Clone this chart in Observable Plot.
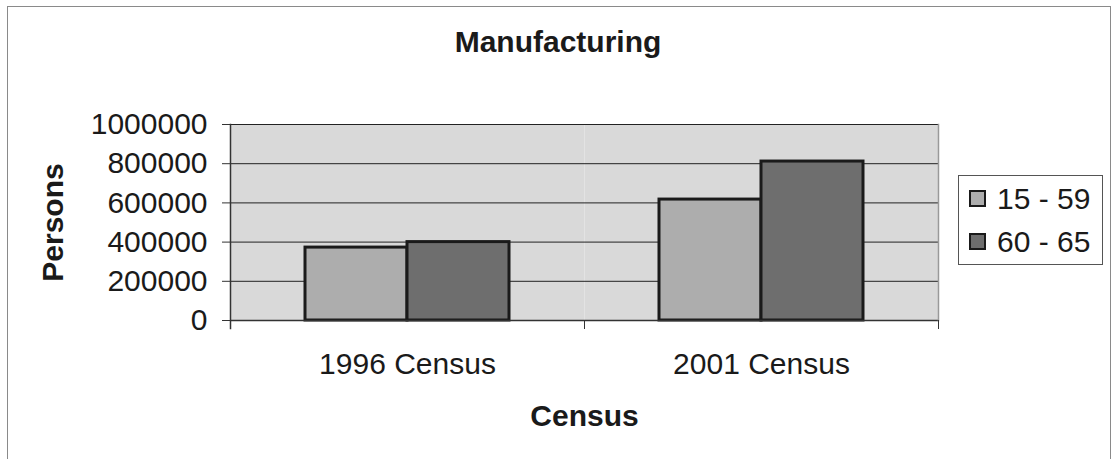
<!DOCTYPE html>
<html>
<head>
<meta charset="utf-8">
<script src="https://cdn.jsdelivr.net/npm/d3@7"></script>
<script src="https://cdn.jsdelivr.net/npm/@observablehq/plot@0.6"></script>
<style>
  body { margin: 0; background: #fff; font-family: "Liberation Sans", Arial, sans-serif; color: #1a1a1a; }
  #wrap { position: relative; width: 1114px; height: 459px; overflow: hidden; }
  #border { position: absolute; left: 7px; top: 6px; width: 1104px; height: 480px; border: 1px solid #8a8a8a; box-sizing: border-box; }
  #chart { position: absolute; left: 0; top: 0; }
  #title { position: absolute; left: 0; top: 27px; width: 1116px; text-align: center; font-weight: bold; font-size: 30px; line-height: 29px; }
  #legend { position: absolute; left: 958px; top: 175px; width: 145px; height: 90px; border: 1px solid #555; box-sizing: border-box; background: #fff; }
  .item { position: absolute; left: 10px; font-size: 30px; line-height: 29px; white-space: nowrap; }
  .sw { position: absolute; left: 0; top: 0; width: 17px; height: 17px; border: 2px solid #1a1a1a; box-sizing: border-box; }
  .lbl { position: absolute; left: 28px; top: -6px; }
</style>
</head>
<body>
<div id="wrap">
  <div id="border"></div>
  <div id="chart"></div>
  <div id="title">Manufacturing</div>
  <div id="legend"></div>
</div>
<script>
// ---- data ----
const census = ["1996 Census", "2001 Census"];
const groups = ["15 - 59", "60 - 65"];
const values15to59 = [372000, 617000];
const values60to65 = [400000, 811000];
const yTicks = [0, 200000, 400000, 600000, 800000, 1000000];
const colors = ["#adadad", "#6e6e6e"];

const rows = census.flatMap((c, i) => [
  {census: c, group: groups[0], value: values15to59[i]},
  {census: c, group: groups[1], value: values60to65[i]}
]);

const W = 1114, H = 459, mT = 124, mB = 139, mL = 229, mR = 176;
const plotH = H - mT - mB;

const chart = Plot.plot({
  width: W, height: H,
  marginTop: mT, marginBottom: mB, marginLeft: mL, marginRight: mR,
  style: {fontFamily: "'Liberation Sans', Arial, sans-serif", fontSize: "30px", color: "#1a1a1a", background: "transparent", overflow: "visible"},
  fx: {domain: census, padding: 0},
  x: {domain: groups, paddingInner: 0, paddingOuter: 0.72, axis: null},
  y: {domain: [0, 1000000]},
  color: {domain: groups, range: colors},
  marks: [
    Plot.frame({fill: "#d9d9d9", stroke: null}),
    Plot.gridY(yTicks, {stroke: "#222", strokeOpacity: 1, strokeWidth: 1}),
    Plot.barY(rows, {fx: "census", x: "group", y: "value", fill: "group", stroke: "#1a1a1a", strokeWidth: 3}),
    Plot.ruleY([0], {stroke: "#333", strokeWidth: 1.5}),
    Plot.frame({anchor: "left", stroke: "#333", strokeWidth: 1.5, insetBottom: -8, fx: () => census[0]}),
    Plot.frame({anchor: "left", stroke: "#333", insetTop: plotH, insetBottom: -8, fx: () => census[1]}),
    Plot.frame({anchor: "right", stroke: "#999", strokeWidth: 1.5, fx: () => census[1]}),
    Plot.frame({anchor: "right", stroke: "#333", insetTop: plotH, insetBottom: -8, fx: () => census[1]}),
    Plot.axisY(yTicks, {tickSize: 8, tickPadding: 15, tickFormat: d => String(d), label: "Persons", labelArrow: "none", labelAnchor: "center", labelOffset: 189, stroke: "#333"}),
    Plot.axisFx({anchor: "bottom", tickSize: 0, tickPadding: 32, label: "Census", labelArrow: "none", labelAnchor: "center", labelOffset: 105})
  ]
});
document.getElementById("chart").appendChild(chart);
d3.select(chart).selectAll('[aria-label="y-axis label"], [aria-label="fx-axis label"]').attr("font-weight", "bold");

// legend
const legend = document.getElementById("legend");
groups.forEach((g, i) => {
  const item = document.createElement("div");
  item.className = "item";
  item.style.top = (14 + i * 43) + "px";
  const sw = document.createElement("span");
  sw.className = "sw";
  sw.style.background = colors[i];
  const lb = document.createElement("span");
  lb.className = "lbl";
  lb.textContent = g;
  item.appendChild(sw); item.appendChild(lb);
  legend.appendChild(item);
});
</script>
</body>
</html>
